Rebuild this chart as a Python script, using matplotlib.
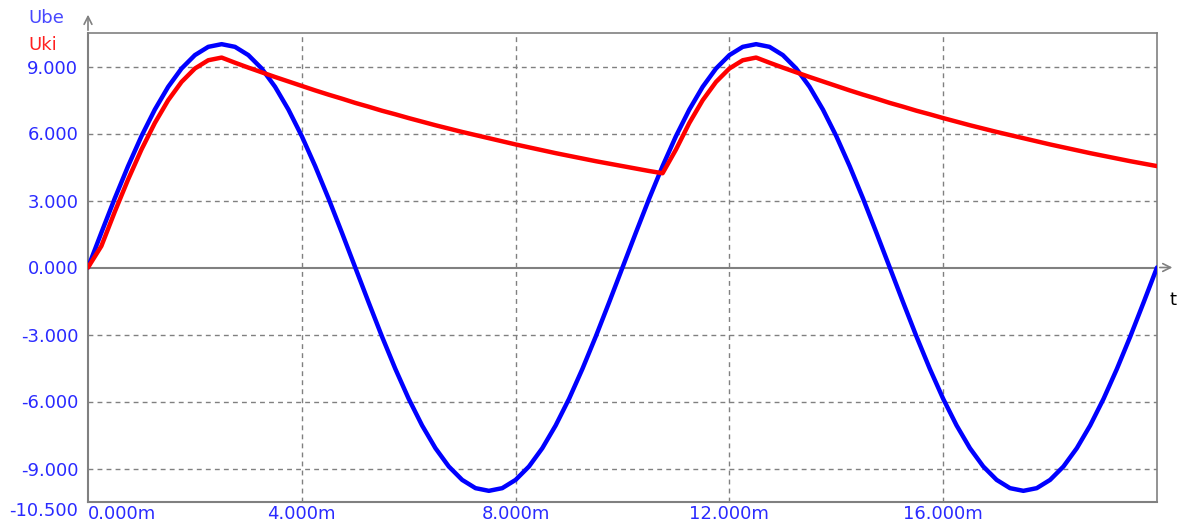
import matplotlib.pyplot as plt

# time axis in ms, 0.25 ms steps
t_ms = [i * 0.25 for i in range(81)]

# Ube (input sine)
ube = [0, 1.56, 3.09, 4.54, 5.88, 7.07, 8.09, 8.91, 9.51, 9.88,
       10.0, 9.88, 9.51, 8.91, 8.09, 7.07, 5.88, 4.54, 3.09, 1.56,
       0, -1.56, -3.09, -4.54, -5.88, -7.07, -8.09, -8.91, -9.51, -9.88,
       -10.0, -9.88, -9.51, -8.91, -8.09, -7.07, -5.88, -4.54, -3.09, -1.56,
       0, 1.56, 3.09, 4.54, 5.88, 7.07, 8.09, 8.91, 9.51, 9.88,
       10.0, 9.88, 9.51, 8.91, 8.09, 7.07, 5.88, 4.54, 3.09, 1.56,
       0, -1.56, -3.09, -4.54, -5.88, -7.07, -8.09, -8.91, -9.51, -9.88,
       -10.0, -9.88, -9.51, -8.91, -8.09, -7.07, -5.88, -4.54, -3.09, -1.56,
       0]

# Uki (rectified + smoothed output)
uki = [0, 0.96, 2.49, 3.94, 5.28, 6.47, 7.49, 8.31, 8.91, 9.28, 9.40,
       9.17, 8.95, 8.74, 8.53, 8.33, 8.13, 7.93, 7.74, 7.56, 7.37,
       7.20, 7.02, 6.86, 6.69, 6.53, 6.37, 6.22, 6.07, 5.93, 5.79,
       5.65, 5.51, 5.38, 5.25, 5.12, 5.00, 4.88, 4.76, 4.65, 4.54,
       4.43, 4.32, 4.22,
       5.28, 6.47, 7.49, 8.31, 8.91, 9.28, 9.40,
       9.17, 8.95, 8.74, 8.53, 8.33, 8.13, 7.93, 7.74, 7.56, 7.37,
       7.20, 7.02, 6.86, 6.69, 6.53, 6.37, 6.22, 6.07, 5.93, 5.79,
       5.65, 5.51, 5.38, 5.25, 5.12, 5.00, 4.88, 4.76, 4.65, 4.54]

x_ticks = [0, 4, 8, 12, 16]
x_labels = ["0.000m", "4.000m", "8.000m", "12.000m", "16.000m"]
y_ticks = [9, 6, 3, 0, -3, -6, -9, -10.5]
y_labels = ["9.000", "6.000", "3.000", "0.000", "-3.000", "-6.000", "-9.000", "-10.500"]

gray = "#808080"
lblue = "#2a2aff"

fig = plt.figure(figsize=(11.79, 5.26), dpi=100)
ax = fig.add_axes([88 / 1179, 1 - 502 / 526, (1157 - 88) / 1179, (502 - 33) / 526])
ax.set_xlim(0, 20)
ax.set_ylim(-10.5, 10.5)

# grid
for gx in x_ticks[1:]:
    ax.axvline(gx, color=gray, lw=1, ls=(0, (3.5, 3)), zorder=1)
for gy in [9, 6, 3, -3, -6, -9]:
    ax.axhline(gy, color=gray, lw=1, ls=(0, (3.5, 3)), zorder=1)
ax.axhline(0, color=gray, lw=1.5, zorder=1)

ax.plot(t_ms, ube, color="#0000ff", lw=3.2, zorder=3, solid_capstyle="round")
ax.plot(t_ms, uki, color="#ff0000", lw=3.2, zorder=4, solid_capstyle="round")

for s in ax.spines.values():
    s.set_color(gray)
    s.set_linewidth(1.5)
ax.spines["top"].set_linewidth(1.2)
ax.spines["right"].set_linewidth(1.2)

ax.set_xticks(x_ticks)
ax.set_xticklabels(x_labels)
ax.set_yticks(y_ticks)
ax.set_yticklabels(y_labels)
ax.tick_params(length=0, labelsize=13, labelcolor=lblue, pad=7)
ax.tick_params(axis="x", pad=2)
ax.get_xticklabels()[0].set_horizontalalignment("left")
ax.get_yticklabels()[-1].set_verticalalignment("top")

# axis arrows
ax.annotate("", xy=(0, 1.045), xytext=(0, 1.0), xycoords="axes fraction",
            arrowprops=dict(arrowstyle="->", color=gray, lw=1.2, mutation_scale=14),
            annotation_clip=False)
ax.annotate("", xy=(1.017, 0.5), xytext=(1.0, 0.5), xycoords="axes fraction",
            arrowprops=dict(arrowstyle="->", color=gray, lw=1.2, mutation_scale=14),
            annotation_clip=False)
fig.text(1170 / 1179, 1 - 300 / 526, "t", fontsize=13, color="black", va="center")

fig.text(28 / 1179, 1 - 18 / 526, "Ube", fontsize=13, color="#4848ff", va="center")
fig.text(28 / 1179, 1 - 45 / 526, "Uki", fontsize=13, color="#ff2020", va="center")

fig.savefig("out.png", dpi=100)
